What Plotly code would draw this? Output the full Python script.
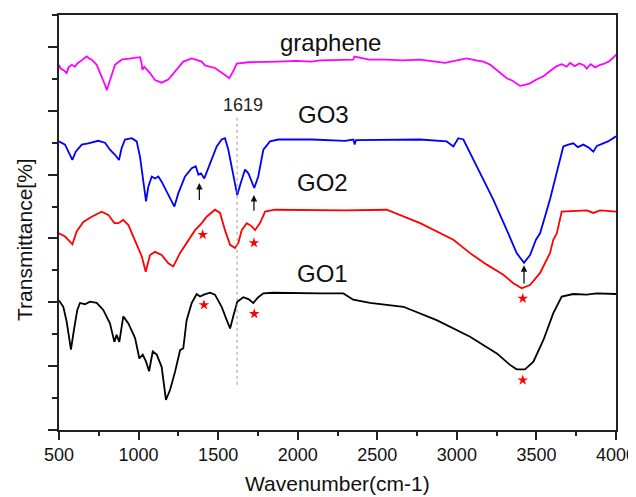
import plotly.graph_objects as go

# ---- data (wavenumber, transmittance offset units) ----
graphene_x = [500, 510, 527, 548, 560, 580, 600, 615, 632, 650, 674, 690, 705, 737, 768, 790, 800, 820, 852, 894, 930, 957, 1009, 1018, 1024, 1036, 1072, 1103, 1145, 1187, 1229, 1281, 1334, 1397, 1417, 1450, 1480, 1543, 1570, 1595, 1617, 1690, 1780, 1878, 1990, 2088, 2140, 2250, 2349, 2356, 2450, 2559, 2660, 2769, 2850, 2926, 3000, 3062, 3120, 3167, 3210, 3251, 3280, 3314, 3350, 3397, 3420, 3460, 3500, 3544, 3590, 3628, 3660, 3690, 3711, 3740, 3770, 3800, 3816, 3840, 3870, 3900, 3930, 3960, 3994, 4000]
graphene_y = [5.72, 5.66, 5.64, 5.59, 5.68, 5.72, 5.69, 5.74, 5.77, 5.80, 5.85, 5.82, 5.80, 5.72, 5.54, 5.40, 5.32, 5.49, 5.72, 5.80, 5.81, 5.82, 5.84, 5.76, 5.64, 5.69, 5.59, 5.48, 5.44, 5.49, 5.62, 5.77, 5.82, 5.77, 5.71, 5.69, 5.67, 5.56, 5.51, 5.62, 5.74, 5.76, 5.77, 5.77, 5.78, 5.77, 5.79, 5.80, 5.80, 5.85, 5.80, 5.80, 5.79, 5.80, 5.77, 5.75, 5.79, 5.82, 5.79, 5.77, 5.72, 5.64, 5.58, 5.51, 5.47, 5.39, 5.40, 5.43, 5.49, 5.54, 5.63, 5.70, 5.73, 5.69, 5.75, 5.70, 5.74, 5.71, 5.66, 5.73, 5.68, 5.72, 5.74, 5.78, 5.86, 5.88]

go3_x = [500, 538, 569, 584, 605, 643, 684, 747, 789, 820, 852, 877, 894, 915, 957, 988, 1009, 1030, 1047, 1061, 1083, 1103, 1124, 1145, 1177, 1208, 1225, 1250, 1292, 1334, 1359, 1376, 1392, 1413, 1449, 1491, 1522, 1543, 1564, 1595, 1620, 1642, 1669, 1690, 1711, 1727, 1752, 1784, 1826, 1878, 2088, 2297, 2350, 2358, 2366, 2560, 2769, 2936, 2978, 3009, 3041, 3125, 3229, 3314, 3376, 3422, 3460, 3497, 3523, 3585, 3638, 3669, 3700, 3732, 3760, 3795, 3830, 3858, 3880, 3900, 3950, 4000]
go3_y = [4.52, 4.47, 4.31, 4.23, 4.36, 4.47, 4.49, 4.53, 4.50, 4.39, 4.31, 4.23, 4.42, 4.55, 4.57, 4.52, 4.28, 3.87, 3.58, 3.81, 3.97, 3.94, 3.97, 3.89, 3.74, 3.58, 3.50, 3.71, 3.97, 4.10, 4.13, 4.00, 4.02, 3.94, 4.18, 4.44, 4.55, 4.57, 4.39, 3.97, 3.68, 3.87, 4.08, 4.02, 3.89, 3.79, 3.97, 4.39, 4.52, 4.55, 4.55, 4.53, 4.55, 4.47, 4.54, 4.55, 4.55, 4.52, 4.44, 4.57, 4.55, 4.13, 3.61, 3.13, 2.77, 2.62, 2.74, 2.98, 3.08, 3.61, 4.13, 4.44, 4.47, 4.49, 4.43, 4.47, 4.42, 4.36, 4.45, 4.47, 4.52, 4.60]

go2_x = [500, 538, 569, 584, 611, 653, 705, 768, 810, 848, 873, 904, 936, 978, 1020, 1045, 1072, 1103, 1145, 1187, 1218, 1260, 1313, 1355, 1397, 1428, 1480, 1512, 1543, 1575, 1606, 1627, 1648, 1680, 1711, 1732, 1763, 1795, 1857, 2297, 2559, 2769, 2978, 3083, 3188, 3292, 3355, 3408, 3460, 3523, 3585, 3606, 3628, 3659, 3816, 3858, 3900, 4000]
go2_y = [3.08, 3.03, 2.95, 2.91, 3.11, 3.26, 3.34, 3.42, 3.37, 3.24, 3.24, 3.29, 3.21, 2.95, 2.72, 2.48, 2.74, 2.79, 2.74, 2.61, 2.56, 2.77, 2.98, 3.13, 3.24, 3.34, 3.45, 3.40, 3.13, 2.90, 2.85, 2.93, 3.13, 3.24, 3.19, 3.13, 3.24, 3.42, 3.45, 3.44, 3.45, 3.24, 2.98, 2.77, 2.59, 2.43, 2.30, 2.22, 2.27, 2.46, 2.77, 2.98, 3.08, 3.42, 3.44, 3.40, 3.44, 3.42]

go1_x = [500, 527, 548, 575, 594, 615, 632, 663, 695, 737, 778, 820, 848, 862, 879, 904, 936, 978, 1005, 1026, 1047, 1066, 1089, 1114, 1145, 1172, 1198, 1229, 1261, 1281, 1302, 1334, 1365, 1386, 1411, 1449, 1480, 1522, 1554, 1575, 1595, 1620, 1658, 1690, 1721, 1752, 1784, 1847, 2140, 2287, 2349, 2454, 2664, 2873, 3083, 3251, 3334, 3376, 3428, 3481, 3544, 3606, 3659, 3732, 3816, 3879, 4000]
go1_y = [2.03, 1.93, 1.70, 1.26, 1.57, 1.88, 1.99, 1.97, 2.01, 1.99, 1.88, 1.67, 1.38, 1.49, 1.38, 1.78, 1.67, 1.44, 1.12, 1.18, 1.07, 0.92, 1.23, 1.18, 0.99, 0.47, 0.63, 0.91, 1.25, 1.28, 1.72, 1.99, 2.13, 2.09, 2.12, 2.15, 2.12, 1.93, 1.72, 1.59, 1.78, 2.01, 2.08, 2.05, 1.99, 2.08, 2.14, 2.15, 2.14, 2.14, 2.04, 1.99, 1.93, 1.72, 1.46, 1.20, 1.02, 0.95, 0.95, 1.07, 1.41, 1.83, 2.09, 2.13, 2.12, 2.14, 2.13]

curve_labels = ["graphene", "GO3", "GO2", "GO1"]
label_x = [2203, 2160, 2155, 2155]
label_y = [6.07, 4.94, 3.87, 2.45]

star_x = [1403, 1725, 3414, 1411, 1727, 3414]
star_y = [3.06, 2.93, 2.06, 1.96, 1.82, 0.78]

arrow_x = [1382, 1725, 3422]
arrow_tail_y = [3.58, 3.41, 2.27]
arrow_head_y = [3.87, 3.68, 2.58]

marker_wn = 1619
marker_label_x = 1656
marker_label_y = 5.09
marker_top = 4.89
marker_bottom = 0.67

x_ticks = [500, 1000, 1500, 2000, 2500, 3000, 3500, 4000]

FONT = "Liberation Sans, Arial, sans-serif"

fig = go.Figure()
series = [(graphene_x, graphene_y, "#ff00ff"), (go3_x, go3_y, "#0000ff"),
          (go2_x, go2_y, "#ff0000"), (go1_x, go1_y, "#000000")]
for (xs, ys, c), name in zip(series, curve_labels):
    fig.add_trace(go.Scatter(x=xs, y=ys, mode="lines", name=name,
                             line=dict(color=c, width=1.8), showlegend=False))

fig.add_trace(go.Scatter(x=[marker_wn, marker_wn], y=[marker_top, marker_bottom], mode="lines",
                         line=dict(color="#999999", width=1, dash="dot"), showlegend=False))

fig.add_trace(go.Scatter(x=star_x, y=star_y, mode="markers",
                         marker=dict(symbol="star", color="#ff0000", size=8, line=dict(width=0)),
                         showlegend=False))

for t, lx, ly in zip(curve_labels, label_x, label_y):
    fig.add_annotation(x=lx, y=ly, text=t, showarrow=False, xanchor="center", yanchor="middle",
                       font=dict(size=24, color="#111111", family=FONT))

fig.add_annotation(x=marker_label_x, y=marker_label_y, text=str(marker_wn), showarrow=False,
                   xanchor="center", yanchor="middle",
                   font=dict(size=18, color="#222222", family=FONT))

for ax_, t_, h_ in zip(arrow_x, arrow_tail_y, arrow_head_y):
    fig.add_annotation(x=ax_, y=h_, ax=ax_, ay=t_, axref="x", ayref="y", xref="x", yref="y",
                       text="", showarrow=True, arrowhead=2, arrowsize=1, arrowwidth=1.3,
                       arrowcolor="#111111")

# axis titles as paper annotations
fig.add_annotation(x=0.5, y=-0.13, xref="paper", yref="paper", text="Wavenumber(cm-1)",
                   showarrow=False, xanchor="center", yanchor="middle",
                   font=dict(size=21, color="#111111", family=FONT))
fig.add_annotation(x=-0.061, y=0.458, xref="paper", yref="paper", text="Transmittance[%]",
                   showarrow=False, xanchor="center", yanchor="middle", textangle=-90,
                   font=dict(size=21, color="#111111", family=FONT))

# page body has an 8px default margin, so the figure is sized/offset to compensate
fig.update_layout(
    width=628, height=489,
    margin=dict(l=51, r=20, t=7, b=67, autoexpand=False),
    paper_bgcolor="white", plot_bgcolor="white",
    font=dict(family=FONT, color="#111111"),
    xaxis=dict(range=[500, 4000], tickvals=x_ticks, ticks="outside", ticklen=8, tickwidth=1.5,
               tickcolor="#222222", showline=True, linecolor="#222222", linewidth=1.5, mirror=True,
               showgrid=False, zeroline=False, tickfont=dict(size=18), automargin=False,
               ticklabeloverflow="allow",
               minor=dict(dtick=250, ticks="outside", ticklen=4, tickcolor="#222222", tickwidth=1.5)),
    yaxis=dict(range=[0, 6.5], dtick=1, tick0=0, ticks="outside", ticklen=9, tickwidth=1.5,
               tickcolor="#222222", showticklabels=False, showline=True, linecolor="#222222",
               linewidth=1.5, mirror=True, showgrid=False, zeroline=False, automargin=False,
               minor=dict(dtick=0.5, ticks="outside", ticklen=5, tickcolor="#222222", tickwidth=1.5)),
)

fig.write_html("out.html")
